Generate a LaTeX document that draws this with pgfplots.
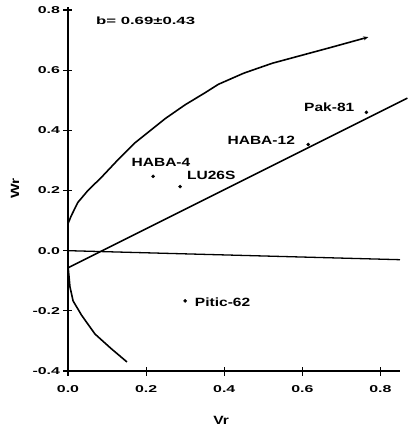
\documentclass[border=0pt]{standalone}
\usepackage{fontspec}
\newfontfamily\lbl{Liberation Sans Bold}[FakeStretch=1.3]
\newfontfamily\tkl{Liberation Sans Bold}[FakeStretch=1.6]
\usepackage{pgfplots}
\pgfplotsset{compat=1.18}
\usetikzlibrary{arrows.meta}

\begin{document}
\begin{tikzpicture}
\begin{axis}[
    scale only axis,
    width=332bp, height=364bp,
    xmin=0, xmax=0.85,
    ymin=-0.4, ymax=0.81,
    axis lines=left,
    axis line style={line width=1.6pt, -},
    xtick={0,0.2,0.4,0.6,0.8},
    ytick={-0.4,-0.2,0,0.2,0.4,0.6,0.8},
    tick align=center,
    major tick length=9bp,
    tick style={line width=1.2pt, black},
    /pgf/number format/assume math mode=true,
    /pgf/number format/.cd, fixed, fixed zerofill, precision=1,
    /pgfplots/.cd,
    ticklabel style={font=\tkl\fontsize{10}{11}\selectfont},
    xticklabel style={yshift=-7bp},
    xlabel={Vr}, ylabel={Wr},
    label style={font=\lbl\fontsize{12}{13}\selectfont},
    xlabel style={at={(axis cs:0.392,-0.4)}, anchor=center, yshift=-49bp},
    ylabel style={at={(axis cs:0,0.206)}, anchor=center, yshift=53bp},
    clip=false,
]
% upper envelope
\addplot[black, line width=1.6pt, -{Stealth[length=5pt,width=4pt]}] coordinates {
 (0,0.09) (0.008,0.115) (0.025,0.16) (0.051,0.20) (0.085,0.243) (0.13,0.305)
 (0.17,0.357) (0.25,0.44) (0.30,0.485) (0.351,0.525) (0.385,0.553) (0.45,0.59)
 (0.523,0.623) (0.60,0.65) (0.677,0.677) (0.769,0.71)
};
% lower envelope
\addplot[black, line width=1.6pt] coordinates {
 (0,-0.05) (0.005,-0.12) (0.013,-0.167) (0.035,-0.215) (0.069,-0.277)
 (0.11,-0.325) (0.151,-0.37)
};
% near-horizontal line
\addplot[black, line width=1.3pt] coordinates {(0,0) (0.85,-0.03)};
% fitted line
\addplot[black, line width=1.6pt] coordinates {(0,-0.057) (0.869,0.507)};
% data points
\addplot[only marks, mark=*, mark size=1.6pt, black] coordinates {
 (0.218,0.247) (0.287,0.213) (0.615,0.353) (0.764,0.46) (0.30,-0.167)
};
\node[font=\lbl\fontsize{12}{13}\selectfont] at (axis cs:0.238,0.295) {HABA-4};
\node[font=\lbl\fontsize{12}{13}\selectfont, anchor=west] at (axis cs:0.296,0.250) {LU26S};
\node[font=\lbl\fontsize{12}{13}\selectfont, anchor=east] at (axis cs:0.590,0.367) {HABA-12};
\node[font=\lbl\fontsize{12}{13}\selectfont, anchor=east] at (axis cs:0.742,0.477) {Pak-81};
\node[font=\lbl\fontsize{12}{13}\selectfont, anchor=west] at (axis cs:0.316,-0.172) {Pitic-62};
\node[font=\tkl\fontsize{10.5}{12}\selectfont, anchor=west] at (axis cs:0.063,0.763) {b= 0.69±0.43};
\end{axis}
\pgfresetboundingbox
\useasboundingbox (-68bp,-61bp) rectangle (340bp,371bp);
\end{tikzpicture}
\end{document}
